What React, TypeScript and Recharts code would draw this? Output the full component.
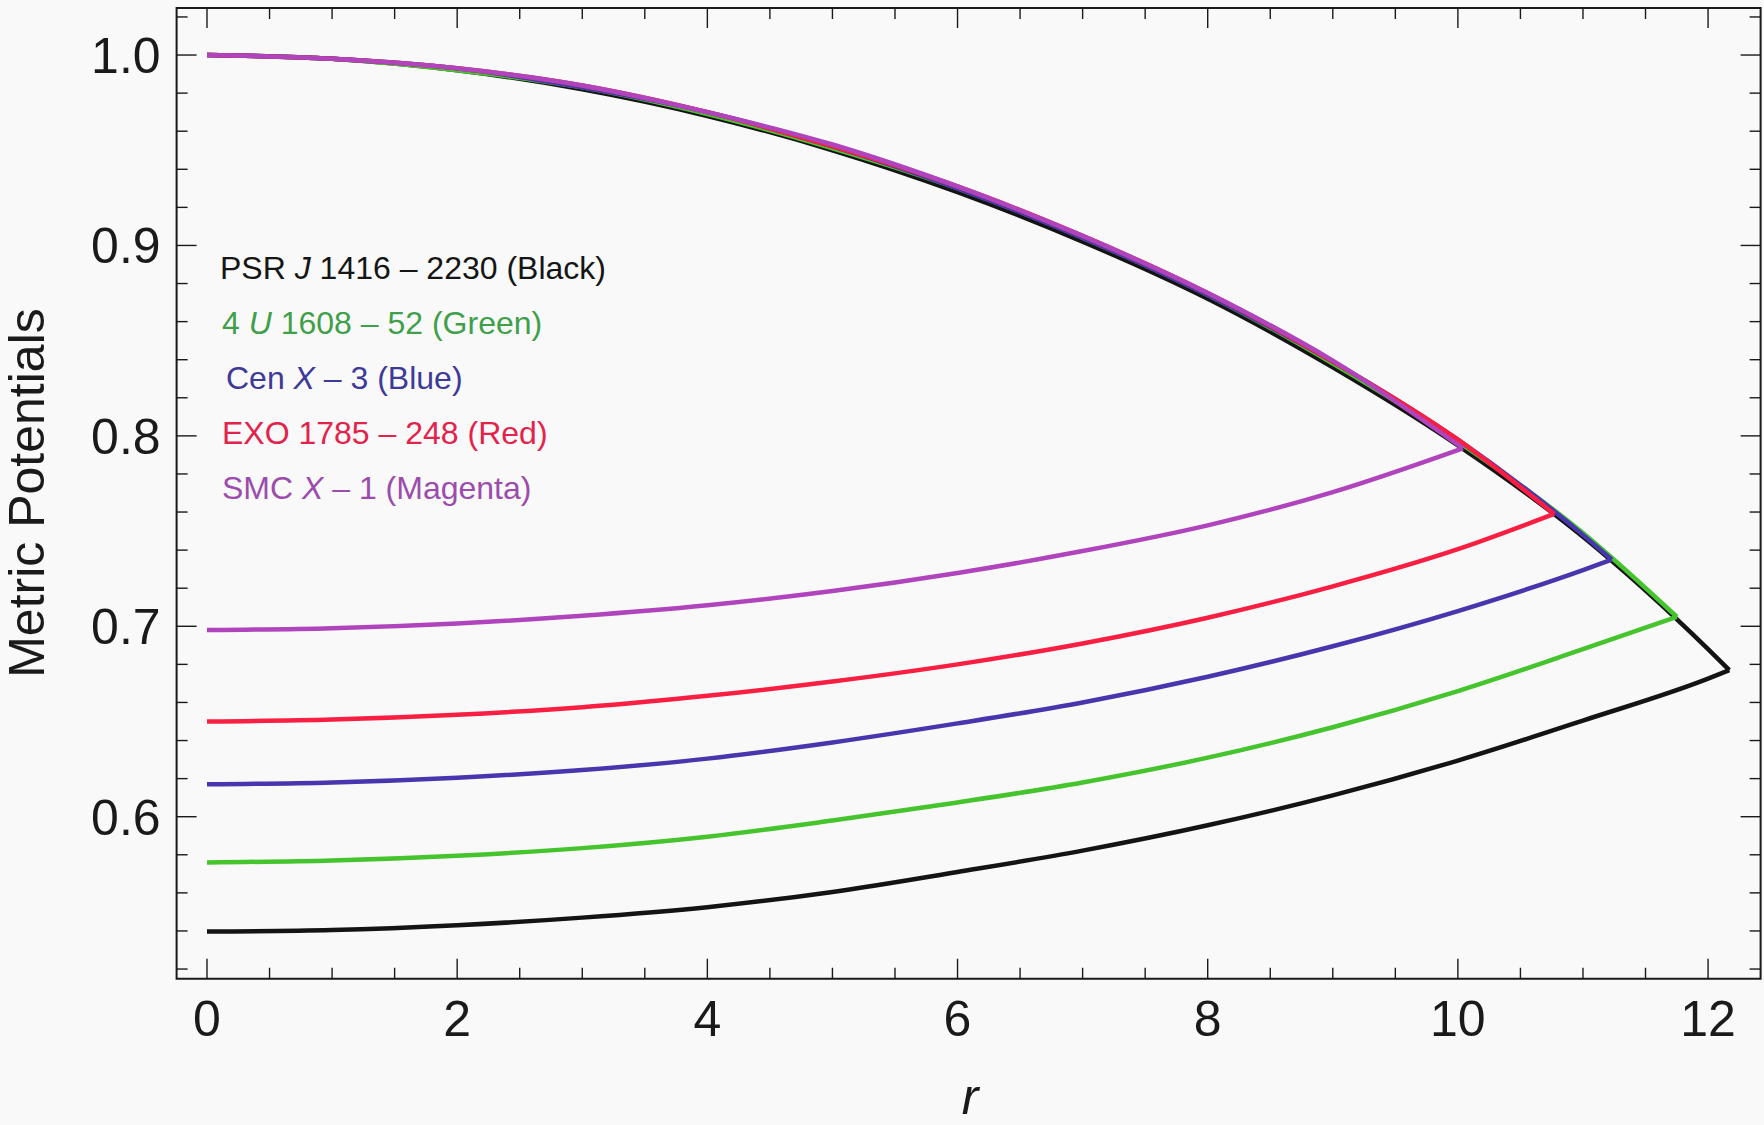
// @ts-nocheck
import React from "react";
import { LineChart, Line, XAxis, YAxis, ReferenceArea } from "recharts";

// radial grid (r) for each star, last entry = surface radius
const rBlack = [0, 1, 2, 3, 4, 5, 6, 7, 8, 9, 10, 11, 12, 12.17];
const rGreen = [0, 1, 2, 3, 4, 5, 6, 7, 8, 9, 10, 11, 11.75];
const rBlue = [0, 1, 2, 3, 4, 5, 6, 7, 8, 9, 10, 11, 11.23];
const rRed = [0, 1, 2, 3, 4, 5, 6, 7, 8, 9, 10, 10.77];
const rMagenta = [0, 1, 2, 3, 4, 5, 6, 7, 8, 9, 10.04];

// lower branch (starts below, rises to the surface)
const blackLower = [0.5397, 0.5405, 0.543, 0.547, 0.5525, 0.5605, 0.571, 0.5822, 0.5955, 0.6112, 0.6295, 0.6505, 0.6725, 0.677];
const greenLower = [0.576, 0.577, 0.5795, 0.5835, 0.5895, 0.598, 0.6075, 0.618, 0.631, 0.647, 0.666, 0.688, 0.705];
const blueLower = [0.617, 0.618, 0.6205, 0.6245, 0.6305, 0.639, 0.649, 0.66, 0.6735, 0.6895, 0.708, 0.7295, 0.735];
const redLower = [0.65, 0.651, 0.6535, 0.6575, 0.6635, 0.671, 0.68, 0.691, 0.7045, 0.721, 0.7405, 0.759];
const magentaLower = [0.698, 0.699, 0.7015, 0.7055, 0.711, 0.7185, 0.728, 0.7395, 0.753, 0.7705, 0.7935];

// upper branch (starts at 1, falls to the surface)
const blackUpper = [1.0, 0.998, 0.992, 0.982, 0.968, 0.95, 0.928, 0.902, 0.872, 0.836, 0.795, 0.747, 0.688, 0.677];
const greenUpper = [1.0, 0.998, 0.992, 0.983, 0.969, 0.951, 0.93, 0.904, 0.874, 0.838, 0.797, 0.749, 0.705];
const blueUpper = [1.0, 0.998, 0.993, 0.983, 0.97, 0.952, 0.93, 0.904, 0.874, 0.839, 0.798, 0.748, 0.735];
const redUpper = [1.0, 0.998, 0.993, 0.984, 0.97, 0.952, 0.931, 0.905, 0.875, 0.839, 0.798, 0.759];
const magentaUpper = [1.0, 0.998, 0.993, 0.984, 0.97, 0.953, 0.931, 0.905, 0.875, 0.8395, 0.7935];

const xTicks = [0, 0.5, 1, 1.5, 2, 2.5, 3, 3.5, 4, 4.5, 5, 5.5, 6, 6.5, 7, 7.5, 8, 8.5, 9, 9.5, 10, 10.5, 11, 11.5, 12];
const yTicks = [0.52, 0.54, 0.56, 0.58, 0.6, 0.62, 0.64, 0.66, 0.68, 0.7, 0.72, 0.74, 0.76, 0.78, 0.8, 0.82, 0.84, 0.86, 0.88, 0.9, 0.92, 0.94, 0.96, 0.98, 1.0, 1.02];

const X_DOMAIN = [-0.243, 12.42];
const Y_DOMAIN = [0.5149, 1.0247];

const W = 1764;
const H = 1125;
const PLOT_LEFT = 176.6;
const PLOT_RIGHT = 1760.6;
const PLOT_TOP = 8;
const PLOT_BOTTOM = 978.75;

const FONT = "'Liberation Sans', Arial, sans-serif";
const INK = "#1a1a1a";

const toPoints = (rs, vs) => rs.map((r, i) => ({ r, v: vs[i] }));

const stars = [
  { key: "black", color: "#141414", r: rBlack, lower: blackLower, upper: blackUpper },
  { key: "green", color: "#45c42e", r: rGreen, lower: greenLower, upper: greenUpper },
  { key: "blue", color: "#4736ad", r: rBlue, lower: blueLower, upper: blueUpper },
  { key: "red", color: "#f81f42", r: rRed, lower: redLower, upper: redUpper },
  { key: "magenta", color: "#b044bd", r: rMagenta, lower: magentaLower, upper: magentaUpper },
];

const isMajor = (v, step) => Math.abs(v / step - Math.round(v / step)) < 1e-6;

function BottomTick({ x, y, payload }) {
  const major = isMajor(payload.value, 2);
  const len = major ? 20 : 11;
  return (
    <g>
      <line x1={x} x2={x} y1={y} y2={y - len} stroke={INK} strokeWidth={1.4} />
      <line x1={x} x2={x} y1={PLOT_TOP} y2={PLOT_TOP + len} stroke={INK} strokeWidth={1.4} />
      {major && (
        <text x={x} y={y + 57} textAnchor="middle" fontSize={50} fontFamily={FONT} fill={INK}>
          {String(payload.value)}
        </text>
      )}
    </g>
  );
}

function LeftTick({ x, y, payload }) {
  const major = isMajor(payload.value, 0.1);
  const len = major ? 20 : 11;
  return (
    <g>
      <line x1={x} x2={x + len} y1={y} y2={y} stroke={INK} strokeWidth={1.4} />
      <line x1={PLOT_RIGHT} x2={PLOT_RIGHT - len} y1={y} y2={y} stroke={INK} strokeWidth={1.4} />
      {major && (
        <text x={x - 16} y={y + 18} textAnchor="end" fontSize={50} fontFamily={FONT} fill={INK}>
          {payload.value.toFixed(1)}
        </text>
      )}
    </g>
  );
}

const legendRows = [
  { color: "#151515", parts: [["PSR ", false], ["J", true], [" 1416 – 2230 (Black)", false]] },
  { color: "#3f9f4a", parts: [["4 ", false], ["U", true], [" 1608 – 52 (Green)", false]] },
  { color: "#3e3a98", parts: [["Cen ", false], ["X", true], [" – 3 (Blue)", false]] },
  { color: "#e2234b", parts: [["EXO 1785 – 248 (Red)", false]] },
  { color: "#9c4cad", parts: [["SMC ", false], ["X", true], [" – 1 (Magenta)", false]] },
];
const legendX = [220, 222, 226, 222, 222];
const legendY = [279, 334, 389, 444, 499];

export default function App() {
  return (
    <div style={{ position: "absolute", left: 0, top: 0, width: W, height: H, background: "#f9f9f9" }}>
      <LineChart
        width={W}
        height={H}
        margin={{ top: PLOT_TOP, right: W - PLOT_RIGHT, bottom: 0, left: 0 }}
      >
        <XAxis
          type="number"
          dataKey="r"
          domain={X_DOMAIN}
          allowDataOverflow
          ticks={xTicks}
          interval={0}
          tick={<BottomTick />}
          tickLine={false}
          tickSize={0}
          tickMargin={0}
          axisLine={false}
          height={H - PLOT_BOTTOM}
        />
        <YAxis
          type="number"
          domain={Y_DOMAIN}
          allowDataOverflow
          ticks={yTicks}
          interval={0}
          tick={<LeftTick />}
          tickLine={false}
          tickSize={0}
          tickMargin={0}
          axisLine={false}
          width={PLOT_LEFT}
        />
        {stars.map((s) => [
          <Line
            key={s.key + "-lower"}
            data={toPoints(s.r, s.lower)}
            dataKey="v"
            type="monotone"
            stroke={s.color}
            strokeWidth={4.5}
            dot={false}
            activeDot={false}
            isAnimationActive={false}
          />,
          <Line
            key={s.key + "-upper"}
            data={toPoints(s.r, s.upper)}
            dataKey="v"
            type="monotone"
            stroke={s.color}
            strokeWidth={4.5}
            dot={false}
            activeDot={false}
            isAnimationActive={false}
          />,
        ])}
        <ReferenceArea
          x1={X_DOMAIN[0]}
          x2={X_DOMAIN[1]}
          y1={Y_DOMAIN[0]}
          y2={Y_DOMAIN[1]}
          fill="none"
          stroke={INK}
          strokeWidth={2}
          ifOverflow="visible"
        />
      </LineChart>
      <svg
        width={W}
        height={H}
        style={{ position: "absolute", left: 0, top: 0, pointerEvents: "none" }}
      >
        <text
          transform="translate(44, 493) rotate(-90)"
          textAnchor="middle"
          fontSize={50}
          fontFamily={FONT}
          fill={INK}
        >
          Metric Potentials
        </text>
        <text x={970} y={1114} textAnchor="middle" fontSize={50} fontStyle="italic" fontFamily={FONT} fill={INK}>
          r
        </text>
        {legendRows.map((row, i) => (
          <text key={i} x={legendX[i]} y={legendY[i]} fontSize={32} fontFamily={FONT} fill={row.color}>
            {row.parts.map(([t, it], j) => (
              <tspan key={j} fontStyle={it ? "italic" : "normal"}>
                {t}
              </tspan>
            ))}
          </text>
        ))}
      </svg>
    </div>
  );
}
